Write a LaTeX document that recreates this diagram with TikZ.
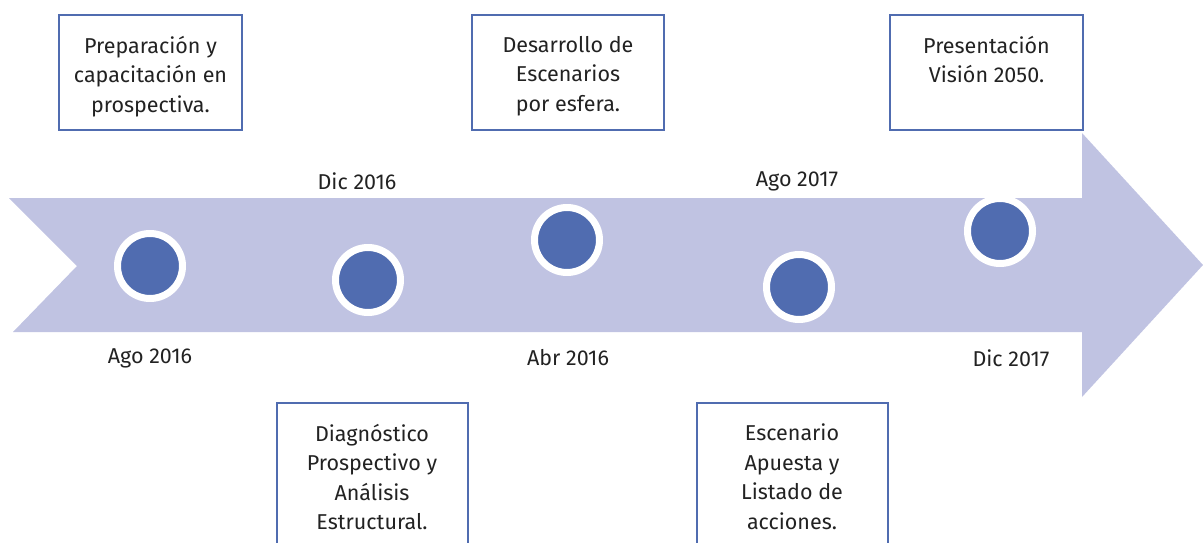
\documentclass[tikz,border=0pt]{standalone}
\usepackage{fontspec}
\setmainfont{Fira Sans}
\usetikzlibrary{positioning}
\definecolor{flecha}{HTML}{C0C3E2}
\definecolor{azul}{HTML}{506CB0}
\definecolor{texto}{HTML}{222222}
\begin{document}
\begin{tikzpicture}[x=1pt, y=-1pt,
		caja/.style={draw=azul, line width=2pt, fill=white, minimum width=192pt, minimum height=115pt, inner sep=0pt},
		cajabaja/.style={caja, minimum width=191pt, minimum height=160pt},
		etiqueta/.style={text=texto, align=center, font=\fontsize{21.5}{29.5}\selectfont, inner sep=0pt},
		fecha/.style={text=texto, font=\fontsize{21.5}{25}\selectfont, inner sep=0pt},
		punto/.style={circle, fill=azul, draw=white, line width=7pt, minimum size=65pt, inner sep=0pt, outer sep=0pt}]
		\useasboundingbox (0,0) rectangle (1203,543);
		\clip (0,0) rectangle (1203,543);

		% flecha
		\fill[flecha] (9,198) -- (1082,198) -- (1082,133) -- (1203,265) -- (1082,397) -- (1082,332) -- (13,332) -- (77,266) -- cycle;

		% hitos
		\node[punto] (p1) at (150,266) {};
		\node[punto] (p2) at (368,280) {};
		\node[punto] (p3) at (567,240) {};
		\node[punto] (p4) at (799,287) {};
		\node[punto] (p5) at (1000,231) {};

		% fechas
		\node[fecha] (f1) at (150,358) {Ago 2016};
		\node[fecha] (f2) at (357,181) {Dic 2016};
		\node[fecha] (f3) at (568,358) {Abr 2016};
		\node[fecha] (f4) at (797,181) {Ago 2017};
		\node[fecha] (f5) at (1011,358) {Dic 2017};

		% cajas de arriba
		\node[caja, minimum width=183pt] (c1) at (150.5,72.5) {};
		\node[caja] (c3) at (568,72.5) {};
		\node[caja, minimum width=193pt] (c5) at (986.5,72.5) {};
		\node[etiqueta, anchor=north] (t1) at ([yshift=-22pt]c1.north) {Preparación y\\capacitación en\\prospectiva.};
		\node[etiqueta, anchor=north] (t3) at ([yshift=-22pt]c3.north) {Desarrollo de\\Escenarios\\por esfera.};
		\node[etiqueta, anchor=north] (t5) at ([yshift=-22pt]c5.north) {Presentación\\Visión 2050.};

		% cajas de abajo
		\node[cajabaja] (c2) at (372,483) {};
		\node[cajabaja] (c4) at (792,483) {};
		\node[etiqueta, anchor=north] (t2) at ([yshift=-22pt]c2.north) {Diagnóstico\\Prospectivo y\\Análisis\\Estructural.};
		\node[etiqueta, anchor=north] (t4) at ([yshift=-22pt]c4.north) {Escenario\\Apuesta y\\Listado de\\acciones.};
	\end{tikzpicture}
\end{document}
